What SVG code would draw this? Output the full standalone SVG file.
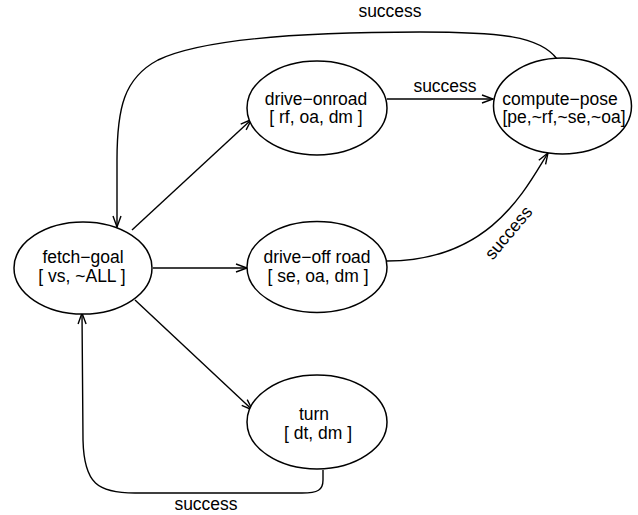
<svg xmlns="http://www.w3.org/2000/svg" width="638" height="515" viewBox="0 0 638 515">
  <style>
    .node ellipse { fill: #ffffff; stroke: #000000; stroke-width: 1.5; }
    .node text, .label { font-family: "Liberation Sans", Arial, Helvetica, sans-serif; font-size: 17.5px; fill: #000000; text-anchor: middle; }
    .edge { fill: none; stroke: #000000; stroke-width: 1.4; }
  </style>
  <defs>
    <marker id="open-arrow" markerUnits="userSpaceOnUse" markerWidth="14" markerHeight="10" refX="11" refY="4" orient="auto" overflow="visible">
      <path d="M0,0 L11,4 L0,8" fill="none" stroke="#000000" stroke-width="1.4"/>
    </marker>
  </defs>
  <rect width="638" height="515" fill="#ffffff"/>

  <!-- connectors -->
  <g id="edges">
    <path class="edge" d="M132,230 L251.5,119.5" marker-end="url(#open-arrow)"/>
    <path class="edge" d="M153,268 L247,268" marker-end="url(#open-arrow)"/>
    <path class="edge" d="M135,300 L252.5,410" marker-end="url(#open-arrow)"/>
    <path class="edge" d="M387,99 L493,99" marker-end="url(#open-arrow)"/>
    <path class="edge" d="M387,261 C490,261 525,190 548,153" marker-end="url(#open-arrow)"/>
    <path class="edge" d="M557,59 C540,36 500,32 420,32 C300,32 200,40 158,60 C124,78 117,108 117,160 L117,227" marker-end="url(#open-arrow)"/>
    <path class="edge" d="M323,470 L323,480 C323,490 318,493 302,493 L135,493 C98,493 84,484 83,440 L82,313" marker-end="url(#open-arrow)"/>
    <text class="label" x="390" y="17">success</text>
    <text class="label" x="445" y="92">success</text>
    <text class="label" transform="translate(513,236.5) rotate(-50)">success</text>
    <text class="label" x="206" y="510">success</text>
  </g>

  <g id="fetch-goal" class="node">
    <ellipse cx="83" cy="268" rx="69" ry="46"/>
    <text><tspan x="83" y="263.3">fetch−goal</tspan><tspan x="82" dy="18.5">[ vs, ~ALL ]</tspan></text>
  </g>
  <g id="drive-onroad" class="node">
    <ellipse cx="317" cy="108" rx="70" ry="47"/>
    <text><tspan x="316" y="104.5">drive−onroad</tspan><tspan x="316" dy="18.5">[ rf, oa, dm ]</tspan></text>
  </g>
  <g id="drive-offroad" class="node">
    <ellipse cx="317" cy="267" rx="70" ry="45.5"/>
    <text><tspan x="317" y="263.3">drive−off road</tspan><tspan x="318" dy="18.5">[ se, oa, dm ]</tspan></text>
  </g>
  <g id="turn" class="node">
    <ellipse cx="317" cy="422" rx="70" ry="47"/>
    <text><tspan x="314" y="420">turn</tspan><tspan x="318" dy="19.3">[ dt, dm ]</tspan></text>
  </g>
  <g id="compute-pose" class="node">
    <ellipse cx="562.5" cy="106" rx="69" ry="48"/>
    <text><tspan x="560" y="104.5">compute−pose</tspan><tspan x="564" dy="18.5">[pe,~rf,~se,~oa]</tspan></text>
  </g>
</svg>
